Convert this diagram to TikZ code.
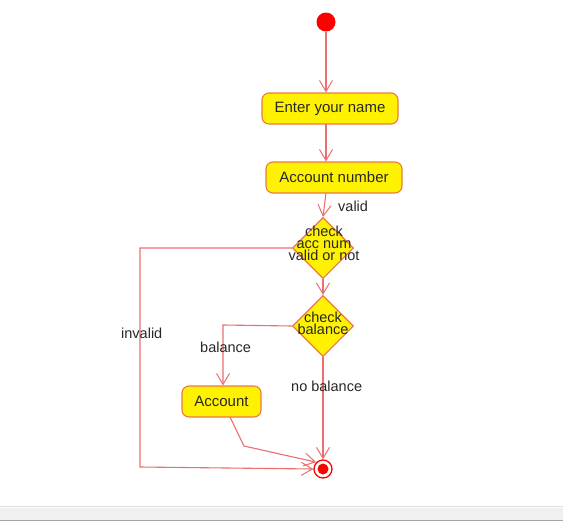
\documentclass[tikz,border=0pt]{standalone}
\usepackage{fontspec}
\setmainfont{Liberation Sans}
\usetikzlibrary{arrows.meta,shapes.geometric}
\definecolor{lnred}{RGB}{236,110,110}
\definecolor{boxbd}{RGB}{236,120,70}
\definecolor{txt}{RGB}{40,40,40}
\tikzset{
  flow/.style={draw=lnred,line width=1.1pt,-{Straight Barb[length=11pt,width=13pt,line width=1pt]}},
  plain/.style={draw=lnred,line width=1.1pt},
  actbox/.style={draw=boxbd,line width=1.1pt,fill=yellow,rounded corners=7pt,minimum height=31pt,inner sep=0pt,font=\fontsize{15}{15}\selectfont,text=txt},
  decis/.style={diamond,draw=boxbd,line width=1.1pt,fill=yellow,minimum width=61pt,minimum height=61pt,inner sep=0pt},
  dtext/.style={align=center,font=\fontsize{14.5}{12}\selectfont,text=txt,inner sep=0pt},
  lbl/.style={font=\fontsize{14.5}{15}\selectfont,text=txt,inner sep=0pt}
}
\begin{document}
\begin{tikzpicture}[x=1pt,y=-1pt]
\useasboundingbox (0,0) rectangle (563,523);
\fill[white] (0,0) rectangle (563,523);
% bottom bar
\fill[gray!12] (0,508) rectangle (563,520);
\draw[gray!25,line width=0.6pt] (0,506) -- (563,506);
\draw[gray!70,line width=1pt] (0,520.5) -- (563,520.5);
% nodes
\node[circle,fill=red,minimum size=19pt,inner sep=0pt] (start) at (326,22) {};
\node[actbox,minimum width=136pt] (enter) at (330,108.5) {Enter your name};
\node[actbox,minimum width=136pt] (accnum) at (334,177.5) {Account number};
\node[decis] (d1) at (323,248) {};
\node[dtext] (d1t) at (324,243) {check\\acc num\\valid or not};
\node[decis] (d2) at (323,326) {};
\node[dtext] (d2t) at (323,323) {check\\balance};
\node[actbox,minimum width=79pt] (acc) at (221.5,401.5) {Account};
\node[circle,draw=red,line width=1.3pt,fill=white,minimum size=18pt,inner sep=0pt] (end) at (323,469) {};
\node[circle,fill=red,minimum size=11pt,inner sep=0pt] (endin) at (end.center) {};
% coordinates
\coordinate (s1) at (326,124);
\coordinate (s2) at (326,193);
\coordinate (inv1) at (140,248);
\coordinate (inv2) at (140,467);
\coordinate (bal1) at (223,325);
\coordinate (accb) at (230,417);
\coordinate (accm) at (244,446);
% connectors
\draw[flow] (start) -- (start |- enter.north);
\draw[flow] (s1) -- (s1 |- accnum.north);
\draw[flow] (s2) -- (d1.north);
\draw[flow] (d1.west) -- (inv1) -- (inv2) -- (end.west);
\draw[flow] (d1.south) -- (d2.north);
\draw[flow] (d2.west) -- (bal1) -- (bal1 |- acc.north);
\draw[flow] (accb) -- (accm) -- (end.north west);
\draw[flow] (d2.south) -- (end.north);
% labels
\node[lbl,anchor=west] (lvalid) at (338,206) {valid};
\node[lbl,anchor=west] (linvalid) at (121,333) {invalid};
\node[lbl,anchor=west] (lbal) at (200,347) {balance};
\node[lbl,anchor=west] (lnobal) at (291,386) {no balance};
\end{tikzpicture}
\end{document}
